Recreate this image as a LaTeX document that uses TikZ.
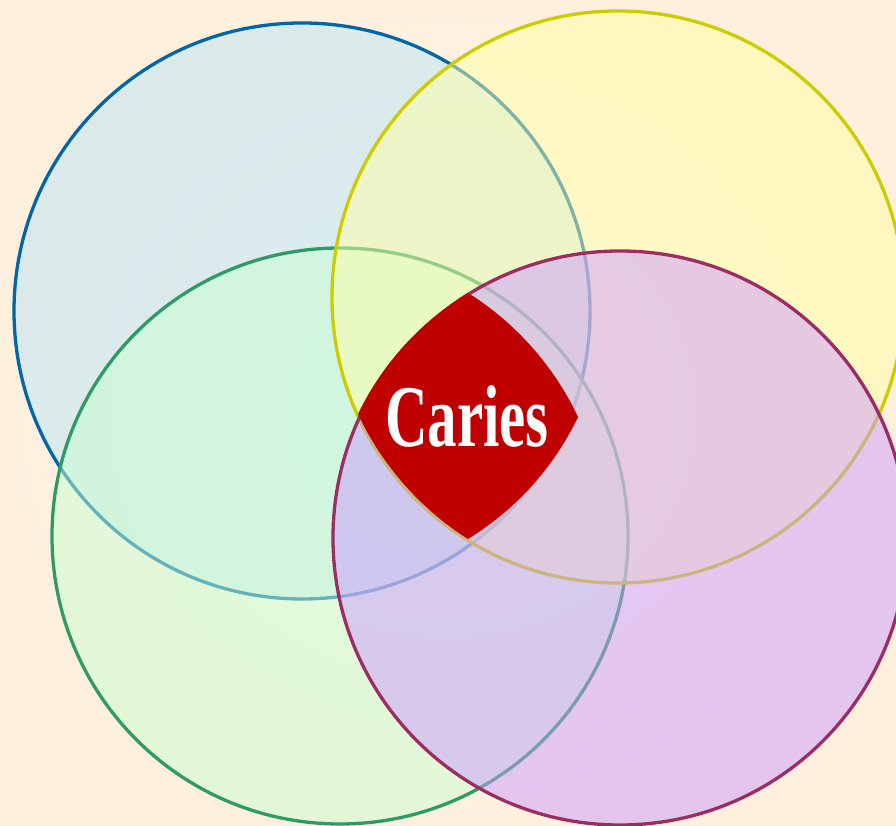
\documentclass[tikz,border=0pt]{standalone}
\usepackage{fontspec}
\newfontfamily\cariesfont{Liberation Serif}
\definecolor{bginner}{HTML}{FFFAF2}
\definecolor{bgouter}{HTML}{FEF0DD}
\definecolor{bluefill}{HTML}{B9E4F6}
\definecolor{blueline}{HTML}{0066A8}
\definecolor{yellowfill}{HTML}{FFFFA4}
\definecolor{yellowline}{HTML}{CCCC00}
\definecolor{greenfill}{HTML}{C8FFD0}
\definecolor{greenline}{HTML}{2E9A66}
\definecolor{purplefill}{HTML}{CC9BFF}
\definecolor{purpleline}{HTML}{9B2D62}
\definecolor{cariesred}{HTML}{C00000}
\tikzset{
  venn/.style={line width=3.3pt, fill opacity=0.5, draw opacity=1},
}
\begin{document}
\begin{tikzpicture}[x=1pt,y=1pt]
  \shade[inner color=bginner, outer color=bgouter] (0,0) rectangle (896,826);
  \useasboundingbox (0,0) rectangle (896,826);
  % circles in stacking order
  \draw[venn, fill=bluefill, draw=blueline] (302,515) circle[radius=288];
  \draw[venn, fill=greenfill, draw=greenline] (340,290) circle[radius=288];
  \draw[venn, fill=yellowfill, draw=yellowline] (618,529) circle[radius=286];
  \draw[venn, fill=purplefill, draw=purpleline] (620,288) circle[radius=287];
  % central shape
  \coordinate (t) at (468,533);
  \coordinate (r) at (578,409);
  \coordinate (b) at (468,287);
  \coordinate (l) at (358,412);
  \fill[cariesred] (t) .. controls (515.3,503.6) and (554.4,459.4) .. (r)
    .. controls (554.0,358.8) and (515.5,316.1) .. (b)
    .. controls (420.8,316.6) and (381.4,361.5) .. (l)
    .. controls (382.2,462.2) and (420.4,504.1) .. (t) -- cycle;
  \node[anchor=base, inner sep=0pt, text=white,
        font=\cariesfont\bfseries\fontsize{88}{88}\selectfont]
    (caries) at (467,379) {\scalebox{0.67}[1]{Caries}};
\end{tikzpicture}
\end{document}
